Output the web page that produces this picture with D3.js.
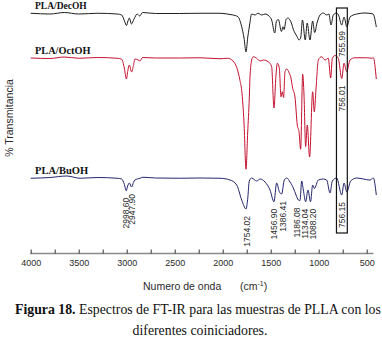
<!DOCTYPE html>
<html lang="es">
<head>
<meta charset="UTF-8">
<title>Espectros de FT-IR</title>
<script src="https://d3js.org/d3.v7.min.js"></script>
<style>
    body { margin: 0; background: #fff; }
    .sans { font-family: "Liberation Sans", Arial, sans-serif; fill: #2a2a2a; }
    .serif { font-family: "Liberation Serif", "Times New Roman", serif; fill: #111; }
    .spec { fill: none; stroke-width: 1; stroke-linejoin: round; }
</style>
</head>
<body>
<div id="chart"></div>
<script>
// wavenumber (cm-1), transmittance (stacked display units)
const decoh = [[4000,95.9],[3800,95.6],[3650,96.2],[3500,95.6],[3300,95.9],[3100,95.6],[3052,95.2],[3020,92.5],[3002,91.0],[2985,93.0],[2973,94.0],[2950,91.6],[2925,93.5],[2890,95.6],[2865,94.8],[2835,96.2],[2700,95.8],[2450,95.8],[2237,95.9],[2028,95.9],[1924,95.4],[1870,95.0],[1841,94.5],[1802,90.5],[1778,86],[1757,80.4],[1740,86],[1723,90.4],[1698,95.6],[1664,95.2],[1632,95.9],[1594,95.2],[1559,95.6],[1518,94.8],[1490,93.2],[1458,88.0],[1440,92.8],[1420,93.4],[1388,88.6],[1372,90.5],[1360,89.4],[1340,93.4],[1320,94.0],[1300,93.2],[1281,91.6],[1265,89.5],[1247,88.0],[1225,86.5],[1205,85.2],[1188,86.0],[1169,93.2],[1140,85.2],[1120,92.0],[1091,85.2],[1063,92.8],[1042,88.2],[1015,92.4],[986,95.2],[952,96],[917,95.2],[893,95.6],[872,91.2],[848,95.2],[815,96],[794,95.2],[760,91.2],[736,94.4],[707,90.4],[674,94.4],[604,95.6],[518,96],[434,95.6],[400,90.4]];

const octoh = [[4000,78.0],[3800,77.8],[3650,78.4],[3500,77.9],[3300,78.2],[3100,77.9],[3052,77.5],[3025,74],[3003,69.6],[2988,73],[2973,75.2],[2948,72.4],[2930,75],[2914,77.6],[2880,77.2],[2861,76.8],[2835,78.2],[2700,78.0],[2450,78.0],[2237,78.1],[2028,77.7],[1950,77.9],[1893,76.8],[1854,74.2],[1820,69],[1802,65],[1778,52],[1757,33.5],[1740,48],[1723,62],[1716,70],[1698,77.2],[1681,78.5],[1646,77.9],[1611,76.8],[1577,77.2],[1525,76.5],[1490,74.5],[1466,58],[1445,71.2],[1431,75.9],[1410,73.9],[1393,62.5],[1380,64.5],[1366,62.2],[1351,72.5],[1333,73.6],[1306,71.9],[1292,70.5],[1271,65.9],[1247,62.4],[1223,51.2],[1205,48.5],[1188,41.5],[1167,71.5],[1153,63.2],[1136,42.6],[1119,51.2],[1095,38.4],[1063,64.5],[1046,56.5],[1028,65.6],[1004,77.2],[969,78.5],[934,77.2],[900,77.9],[875,70.0],[858,77.9],[830,79.0],[796,77.9],[760,69.8],[736,75.9],[708,72.5],[674,77.2],[622,78.1],[500,78.1],[448,77.9],[431,78.1],[400,69.6]];

const buoh = [[4000,29.9],[3800,30.2],[3625,30.8],[3486,29.9],[3300,30.2],[3100,29.9],[3052,29.6],[3025,27.5],[3005,24.9],[2990,26.8],[2973,28.0],[2948,26.4],[2930,28.2],[2914,29.2],[2861,29.9],[2830,30.3],[2700,30.0],[2450,29.9],[2237,30.0],[2028,29.9],[1924,29.2],[1854,27.2],[1802,21.2],[1757,17.6],[1740,21.5],[1723,28.8],[1698,30],[1646,28.8],[1611,29.6],[1559,28.4],[1507,25.2],[1466,20.5],[1438,28],[1410,24.5],[1386,23.6],[1358,29.2],[1333,30],[1299,28.4],[1264,26],[1236,23.2],[1212,21.2],[1195,21.0],[1177,28.8],[1160,25.2],[1136,20.5],[1112,25.2],[1085,20.5],[1063,27.2],[1045,25.8],[1004,29.2],[952,29.6],[917,29.2],[882,24],[858,28.8],[813,30],[760,23.2],[736,28],[707,24.4],[667,28.8],[604,30],[466,29.2],[431,30],[400,23.2]];

const seriesNames = ["PLA/DecOH", "PLA/OctOH", "PLA/BuOH"];
const seriesColors = ["#1e1e1e", "#c4122f", "#25256e"];

// peak labels on the BuOH trace: text, peak position, where the label sits
const buohPeakText = ["2998.60", "2947.90", "1754.02", "1456.90", "1386.41", "1186.08", "1134.04", "1088.20", "756.15"];
const buohPeakPos = [2998.6, 2947.9, 1754.02, 1456.9, 1386.41, 1186.08, 1134.04, 1088.2, 756.15];
const buohLabelAt = [3012, 2945, 1752, 1465, 1372, 1222, 1143, 1063, 756];
// labels inside the box
const boxPeakText = ["755.99", "756.01"];
const boxRange = [815, 702];
const boxValues = [98, 8];

const majorTicks = [4000, 3500, 3000, 2500, 2000, 1500, 1000, 500];
const minorTicks = [3750, 3250, 2750, 2250, 1750, 1250, 750];

const W = 382, H = 340;
const svg = d3.select("#chart").append("svg").attr("width", W).attr("height", H);

const x = d3.scaleLinear().domain([4000, 400]).range([30.7, 376.3]);
const y = d3.scaleLinear().domain([0, 100]).range([253, 3]);

const line = d3.line().x(d => x(d[0])).y(d => y(d[1])).curve(d3.curveMonotoneX);

const allSeries = [decoh, octoh, buoh];
allSeries.forEach((s, i) => {
    svg.append("path").datum(s).attr("class", "spec")
        .attr("stroke", seriesColors[i]).attr("d", line);
});

// lowest point of a series near a wavenumber
function dipAt(s, w) {
    const near = s.filter(d => Math.abs(d[0] - w) < 25);
    return d3.min(near, d => d[1]);
}

function vlabel(txt, w, v, gap) {
    const px = x(w), py = y(v) + gap;
    svg.append("text").attr("class", "sans")
        .attr("transform", `translate(${px},${py}) rotate(-90)`)
        .attr("text-anchor", "end").attr("dy", "0.36em")
        .style("font-size", "8.5px")
        .text(txt);
}

buohPeakText.forEach((t, i) => vlabel(t, buohLabelAt[i], dipAt(buoh, buohPeakPos[i]), 7));
vlabel(boxPeakText[0], 756, dipAt(decoh, 756), 6);
vlabel(boxPeakText[1], 756, dipAt(octoh, 756), 7);

// box around the 756 band
svg.append("rect")
    .attr("x", x(boxRange[0])).attr("y", y(boxValues[0]))
    .attr("width", x(boxRange[1]) - x(boxRange[0]))
    .attr("height", y(boxValues[1]) - y(boxValues[0]))
    .attr("fill", "none").attr("stroke", "#111").attr("stroke-width", 1.2);

// series names
const nameY = [9, 54, 174];
const nameSize = [9.5, 10.3, 10.5];
seriesNames.forEach((n, i) => {
    svg.append("text").attr("class", "serif")
        .attr("x", 35).attr("y", nameY[i])
        .style("font-size", nameSize[i] + "px").style("font-weight", "bold")
        .text(n);
});

// x axis
const axisY = 253.5;
svg.append("line")
    .attr("x1", x(4000) - 0.5).attr("x2", x(430))
    .attr("y1", axisY).attr("y2", axisY)
    .attr("stroke", "#8a8a8a").attr("stroke-width", 1.6);

const gT = svg.append("g").attr("transform", `translate(0,${axisY})`)
    .call(d3.axisTop(x).tickValues(majorTicks.concat(minorTicks)).tickSize(4).tickSizeOuter(0).tickFormat(""));
gT.select(".domain").remove();
gT.selectAll("line").attr("stroke", "#333");

const gL = svg.append("g").attr("transform", `translate(0,${axisY})`)
    .call(d3.axisBottom(x).tickValues(majorTicks).tickSize(0).tickPadding(6).tickFormat(d3.format("d")));
gL.select(".domain").remove();
gL.selectAll("text").attr("class", "sans").attr("fill", "#2a2a2a")
    .style("font-size", "9px");

svg.append("text").attr("class", "sans")
    .attr("x", 143).attr("y", 290).style("font-size", "10.5px")
    .text("Numero de onda");
const cm = svg.append("text").attr("class", "sans")
    .attr("x", 240).attr("y", 290).style("font-size", "10.5px");
cm.append("tspan").text("(cm");
cm.append("tspan").attr("dy", -4).style("font-size", "7px").text("-1");
cm.append("tspan").attr("dy", 4).text(")");

svg.append("text").attr("class", "sans")
    .attr("transform", "translate(13,118) rotate(-90)")
    .attr("text-anchor", "middle").style("font-size", "10.5px")
    .text("% Transmitancia");

// caption
const cap = svg.append("text").attr("class", "serif")
    .attr("x", 15).attr("y", 314).style("font-size", "13.8px");
cap.append("tspan").style("font-weight", "bold").text("Figura 18.");
cap.append("tspan").text(" Espectros de FT-IR para las muestras de PLLA con los");

svg.append("text").attr("class", "serif")
    .attr("x", 200).attr("y", 335).attr("text-anchor", "middle")
    .style("font-size", "13.8px")
    .text("diferentes coiniciadores.");
</script>
</body>
</html>
